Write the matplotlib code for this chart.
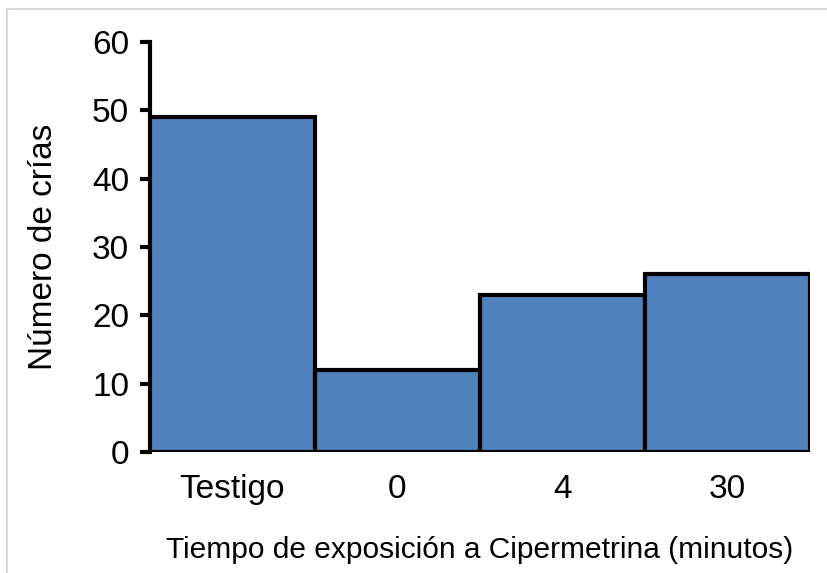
import matplotlib
matplotlib.use("Agg")
import matplotlib.pyplot as plt
from matplotlib.patches import Rectangle

categories = ["Testigo", "0", "4", "30"]
values = [49, 12, 23, 26]
yticks = [0, 10, 20, 30, 40, 50, 60]

plt.rcParams['font.family'] = ['Liberation Sans', 'DejaVu Sans']

fig = plt.figure(figsize=(8.28, 5.73), dpi=100)
W, H = 828, 573
ax = fig.add_axes([150 / W, 1 - 452 / H, (810 - 150) / W, (452 - 42) / H])

x = list(range(len(categories)))
ax.bar(x, values, width=1.0, color="#4F81BD", edgecolor="black", linewidth=3.0, zorder=3)
ax.set_xlim(-0.5, 3.5)
ax.set_ylim(0, 60)
ax.set_yticks(yticks)
ax.set_xticks(x)
ax.set_xticklabels(categories)
for s in ["top", "right", "bottom"]:
    ax.spines[s].set_visible(False)
ax.spines["left"].set_linewidth(3.0)
ax.tick_params(axis="y", direction="out", length=7, width=3.0, labelsize=24, pad=8)
ax.tick_params(axis="x", length=0, labelsize=24, pad=16)
ax.set_ylabel("Número de crías", fontsize=24, labelpad=24)
ax.set_xlabel("Tiempo de exposición a Cipermetrina (minutos)", fontsize=21.5, labelpad=22)

# light gray figure border
fig.add_artist(Rectangle((7.5 / W, -0.01), 1.0, 1 - 9 / H + 0.01, transform=fig.transFigure,
                         fill=False, edgecolor="#D9D9D9", linewidth=1.5))

fig.savefig("out.png", dpi=100)
